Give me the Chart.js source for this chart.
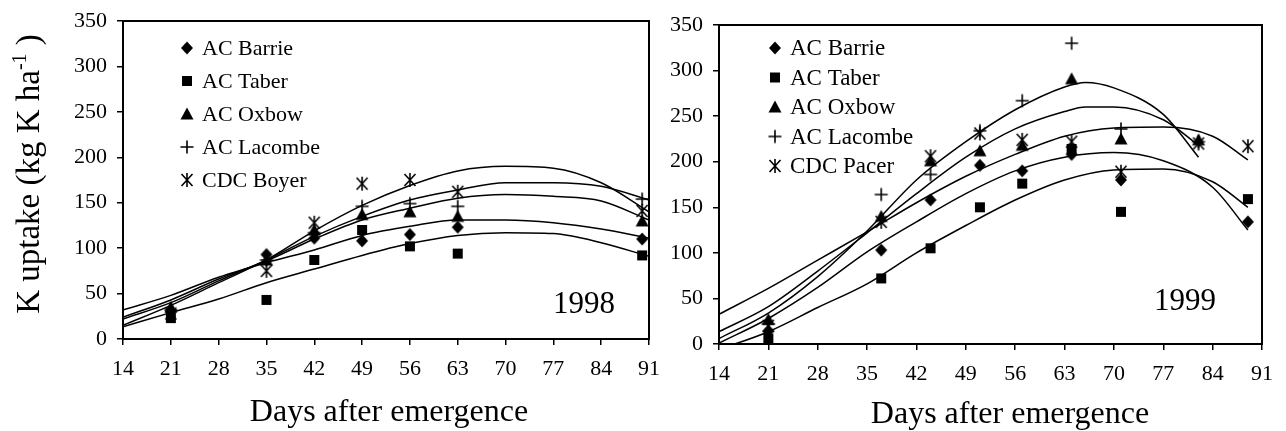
<!DOCTYPE html>
<html>
<head>
<meta charset="utf-8">
<script src="https://cdn.jsdelivr.net/npm/chart.js@4.4.0/dist/chart.umd.min.js"></script>
<style>
  html, body { margin: 0; padding: 0; background: #fff; }
  #wrap { position: relative; width: 1286px; height: 431px; overflow: hidden; }
  .panel { position: absolute; top: 0; }
  #p98 { left: 0; }
  #p99 { left: 660px; }
</style>
</head>
<body>
<div id="wrap">
  <div class="panel" id="p98"><canvas id="c98" width="673" height="431"></canvas></div>
  <div class="panel" id="p99"><canvas id="c99" width="626" height="431"></canvas></div>
</div>
<script>
// K uptake of five pea cultivars, 1998 and 1999 - measured points plus fitted curves

const xTicks = [14, 21, 28, 35, 42, 49, 56, 63, 70, 77, 84, 91];
const yTicks = [0, 50, 100, 150, 200, 250, 300, 350];
const yTitle = 'K uptake (kg K ha';
const yTitleSup = '-1';
const xTitle = 'Days after emergence';

// 1998
const names98 = ['AC Barrie', 'AC Taber', 'AC Oxbow', 'AC Lacombe', 'CDC Boyer'];
const sampleDays98 = [21, 35, 42, 49, 56, 63, 90];
const barrie98  = [30, 93, 111, 108, 115, 123, 110];
const taber98   = [23, 43, 87, 120, 102, 94, 92];
const oxbow98   = [35, 87, 120, 137, 140, 135, 130];
const lacombe98 = [32, 87, 117, 146, 149, 146, 154];
const boyer98   = [28, 75, 128, 171, 175, 162, 141];

const fitDays98 = [14, 21, 28, 35, 42, 49, 56, 63, 70, 77, 84, 91];
const fitBarrie98  = [32, 48, 68, 84, 98, 114, 124, 131, 131, 128, 121, 111];
const fitTaber98   = [13.5, 29, 44, 62, 77, 92, 105, 114, 117, 116, 106, 91];
const fitOxbow98   = [24, 43, 66, 86, 110, 131, 144, 155, 159, 157, 152, 131];
const fitLacombe98 = [22, 40, 64, 87, 113, 135, 153, 164, 172, 172, 168, 153];
const fitBoyer98   = [15, 37, 62, 87, 119, 147, 169, 185, 190, 188, 172, 140];

// 1999
const names99 = ['AC Barrie', 'AC Taber', 'AC Oxbow', 'AC Lacombe', 'CDC Pacer'];
const sampleDays99 = [21, 37, 44, 51, 57, 64, 71, 82, 89];
const barrie99  = [14, 103, 158, 196, 190, 208, 180, null, 134];
const taber99   = [6, 72, 105, 150, 176, 214, 145, null, 159];
const oxbow99   = [27, 140, 201, 212, 218, 291, 225, 224, null];
const lacombe99 = [22, 164, 186, 234, 267, 330, 236, 222, null];
const pacer99   = [20, 134, 206, 231, 224, 222, 189, 220, 217];

const fitDaysShort99 = [14, 21, 28, 35, 42, 49, 56, 63, 66, 70, 77, 82];
const fitLacombe99 = [6, 34, 74, 124, 180, 222, 257, 282, 287, 281, 252, 205];
const fitOxbow99   = [13.5, 41, 80, 122, 165, 205, 236, 255, 260, 260, 246, 218];
const fitDays99 = [14, 21, 28, 35, 42, 49, 56, 63, 70, 77, 84, 89];
const fitPacer99  = [32.6, 61, 92, 123, 155, 184, 208, 228, 237, 238, 228, 202];
const fitBarrie99 = [1, 28, 62, 101, 134, 165, 190, 205, 210, 201, 172, 125];
const fitTaber99  = [-6, 13.5, 40, 66, 100, 130, 158, 180, 191, 192, 178, 150];

const serif = 'Liberation Serif, Times New Roman, serif';

// marker glyphs, drawn once and reused by the points and the legend
function makeMarker(kind) {
    const s = 16, m = 8;
    const c = document.createElement('canvas');
    c.width = s; c.height = s;
    const g = c.getContext('2d');
    g.fillStyle = '#000';
    g.strokeStyle = '#000';
    g.lineWidth = 1.6;
    g.beginPath();
    if (kind === 'diamond') {
        g.moveTo(m, m - 6.5); g.lineTo(m + 6, m); g.lineTo(m, m + 6.5); g.lineTo(m - 6, m);
        g.closePath(); g.fill();
    } else if (kind === 'square') {
        g.rect(m - 5, m - 5, 10, 10); g.fill();
    } else if (kind === 'triangle') {
        g.moveTo(m, m - 6.5); g.lineTo(m + 6.5, m + 5.5); g.lineTo(m - 6.5, m + 5.5);
        g.closePath(); g.fill();
    } else if (kind === 'plus') {
        g.moveTo(m - 6.5, m); g.lineTo(m + 6.5, m);
        g.moveTo(m, m - 6.5); g.lineTo(m, m + 6.5);
        g.stroke();
    } else {
        g.moveTo(m - 5.5, m - 6); g.lineTo(m + 5.5, m + 6);
        g.moveTo(m + 5.5, m - 6); g.lineTo(m - 5.5, m + 6);
        g.moveTo(m, m - 7); g.lineTo(m, m + 7);
        g.stroke();
    }
    return c;
}
const markers = ['diamond', 'square', 'triangle', 'plus', 'asterisk'].map(makeMarker);

function pts(days, vals) {
    return days.map((d, i) => ({ x: d, y: vals[i] })).filter(p => p.y !== null);
}

function pointSet(label, days, vals, idx) {
    return {
        label: label,
        data: pts(days, vals),
        showLine: false,
        pointStyle: markers[idx],
        pointRadius: 7,
        backgroundColor: '#000',
        borderColor: '#000'
    };
}

function fitSet(days, vals) {
    return {
        data: pts(days, vals),
        showLine: true,
        borderColor: '#000',
        borderWidth: 1.5,
        pointRadius: 0,
        cubicInterpolationMode: 'monotone',
        fill: false
    };
}

// frame, legend, titles and year text
const decorations = {
    id: 'decorations',
    afterDraw(chart, args, opts) {
        const ctx = chart.ctx;
        const a = chart.chartArea;
        ctx.save();
        ctx.strokeStyle = '#000';
        ctx.lineWidth = 2;
        ctx.strokeRect(a.left, a.top, a.right - a.left, a.bottom - a.top);

        ctx.fillStyle = '#000';
        ctx.textBaseline = 'middle';
        ctx.textAlign = 'left';
        ctx.font = opts.legendSize + 'px ' + serif;
        opts.names.forEach((n, i) => {
            const y = a.top + opts.legendTop + i * opts.legendStep;
            const mx = a.left + opts.legendLeft;
            ctx.drawImage(markers[i], mx - 8, y - 8);
            ctx.fillText(n, mx + 15, y + 1);
        });

        ctx.font = opts.yearSize + 'px ' + serif;
        ctx.textBaseline = 'alphabetic';
        ctx.fillText(opts.year, opts.yearX, opts.yearY);

        ctx.font = '32px ' + serif;
        ctx.textAlign = 'center';
        ctx.textBaseline = 'middle';
        ctx.fillText(xTitle, opts.xTitleX, opts.xTitleY);

        if (opts.yTitle) {
            ctx.translate(28, 174);
            ctx.rotate(-Math.PI / 2);
            ctx.textAlign = 'left';
            ctx.textBaseline = 'alphabetic';
            const big = '33px ' + serif, small = '20px ' + serif;
            ctx.font = big;
            const w1 = ctx.measureText(yTitle).width;
            const w3 = ctx.measureText(' )').width;
            ctx.font = small;
            const w2 = ctx.measureText(yTitleSup).width;
            let x = -(w1 + w2 + w3) / 2;
            ctx.font = big;
            ctx.fillText(yTitle, x, 11);
            x += w1;
            ctx.font = small;
            ctx.fillText(yTitleSup, x, -2);
            x += w2;
            ctx.font = big;
            ctx.fillText(' )', x, 11);
        }
        ctx.restore();
    }
};

function makeOptions(pad, yWidth, xHeight, deco) {
    const gridOpts = { drawOnChartArea: false, drawTicks: true, tickLength: 6, color: '#000', lineWidth: 1.5 };
    const tickFont = { family: serif, size: 22, lineHeight: 1 };
    return {
        responsive: false,
        animation: false,
        layout: { padding: pad },
        plugins: {
            legend: { display: false },
            tooltip: { enabled: false },
            decorations: deco
        },
        scales: {
            x: {
                type: 'linear', min: 14, max: 91,
                afterBuildTicks: s => { s.ticks = xTicks.map(v => ({ value: v })); },
                afterFit: s => { s.height = xHeight; },
                grid: gridOpts,
                border: { color: '#000', width: 2 },
                ticks: { color: '#000', font: tickFont, padding: 13, maxRotation: 0 }
            },
            y: {
                type: 'linear', min: 0, max: 350,
                afterBuildTicks: s => { s.ticks = yTicks.map(v => ({ value: v })); },
                afterFit: s => { s.width = yWidth; },
                grid: gridOpts,
                border: { color: '#000', width: 2 },
                ticks: { color: '#000', font: tickFont, padding: 10 }
            }
        }
    };
}

new Chart(document.getElementById('c98'), {
    type: 'scatter',
    data: {
        datasets: [
            pointSet(names98[0], sampleDays98, barrie98, 0),
            pointSet(names98[1], sampleDays98, taber98, 1),
            pointSet(names98[2], sampleDays98, oxbow98, 2),
            pointSet(names98[3], sampleDays98, lacombe98, 3),
            pointSet(names98[4], sampleDays98, boyer98, 4),
            fitSet(fitDays98, fitBarrie98),
            fitSet(fitDays98, fitTaber98),
            fitSet(fitDays98, fitOxbow98),
            fitSet(fitDays98, fitLacombe98),
            fitSet(fitDays98, fitBoyer98)
        ]
    },
    options: makeOptions({ top: 21, right: 16, left: 0, bottom: 0 }, 123, 92, {
        names: names98, legendTop: 27, legendStep: 33, legendLeft: 64, legendSize: 22,
        year: '1998', yearSize: 31, yearX: 553, yearY: 313,
        xTitleX: 389, xTitleY: 413, yTitle: true
    }),
    plugins: [decorations]
});

new Chart(document.getElementById('c99'), {
    type: 'scatter',
    data: {
        datasets: [
            pointSet(names99[0], sampleDays99, barrie99, 0),
            pointSet(names99[1], sampleDays99, taber99, 1),
            pointSet(names99[2], sampleDays99, oxbow99, 2),
            pointSet(names99[3], sampleDays99, lacombe99, 3),
            pointSet(names99[4], sampleDays99, pacer99, 4),
            fitSet(fitDays99, fitBarrie99),
            fitSet(fitDays99, fitTaber99),
            fitSet(fitDaysShort99, fitOxbow99),
            fitSet(fitDaysShort99, fitLacombe99),
            fitSet(fitDays99, fitPacer99)
        ]
    },
    options: makeOptions({ top: 25, right: 23, left: 0, bottom: 0 }, 59, 87, {
        names: names99, legendTop: 23, legendStep: 29.5, legendLeft: 56, legendSize: 23,
        year: '1999', yearSize: 31, yearX: 494, yearY: 310,
        xTitleX: 350, xTitleY: 415, yTitle: false
    }),
    plugins: [decorations]
});
</script>
</body>
</html>
